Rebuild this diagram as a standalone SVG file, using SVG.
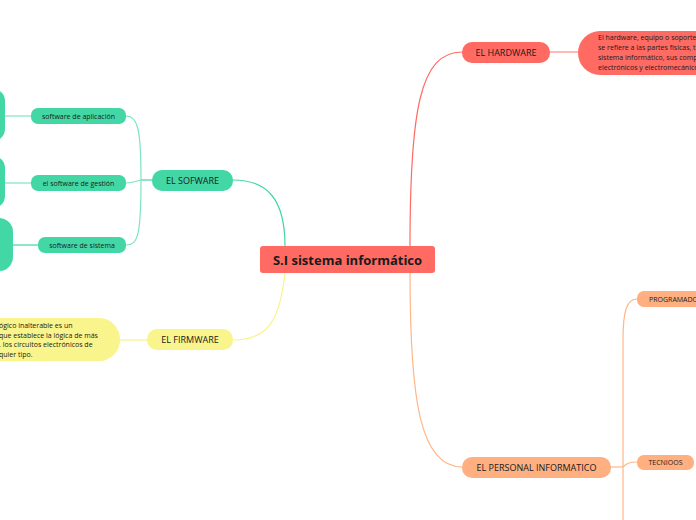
<svg xmlns="http://www.w3.org/2000/svg" width="696" height="520" viewBox="0 0 696 520">
<style>
text{font-family:"Open Sans","Noto Sans","Liberation Sans",sans-serif;fill:#1a1a1a}
.c{fill:none;stroke-width:1.2}
.red{fill:#FF6B63}.grn{fill:#43D7A6}.yel{fill:#F9F48B}.org{fill:#FFAF80}
.m{font-size:9px;text-anchor:middle;dominant-baseline:central}
.s{font-size:7px;text-anchor:middle;dominant-baseline:central}
.d{font-size:7px}
</style>
<rect width="696" height="520" fill="#fff"/>
<g id="connectors">
<path class="c" stroke="#FF6B63" d="M410,246 C410,110 420,52 462,52"/>
<path class="c" stroke="#FF8C80" d="M550,52 L578,52"/>
<path class="c" stroke="#FFB688" d="M410,273 C410,400 420,467 462,467"/>
<path class="c" stroke="#FFB688" d="M611,467 L623,467"/>
<path class="c" stroke="#FFB688" d="M623,520 L623,340 C623,310 627,299 637,299"/>
<path class="c" stroke="#FFB688" d="M623,467 C627,463 630,462 637,462"/>
<path class="c" stroke="#43D6A4" d="M285,246 C285,200 268,180 233,180"/>
<path class="c" stroke="#43D6A4" d="M152,180 L141,180"/>
<path class="c" stroke="#7FE3C2" d="M141,180 C141,130 138,116 126,116"/>
<path class="c" stroke="#7FE3C2" d="M141,180 C136,181 133,183 126,183"/>
<path class="c" stroke="#7FE3C2" d="M141,180 C141,235 138,245 126,245"/>
<path class="c" stroke="#7FE3C2" d="M31,116 L5,116"/>
<path class="c" stroke="#7FE3C2" d="M31,183 L5,183"/>
<path class="c" stroke="#43D6A4" d="M38,245 L13,245"/>
<path class="c" stroke="#F9F28A" d="M285,273 C280,320 268,340 233,340"/>
<path class="c" stroke="#F9F28A" d="M147,340 L120,340"/>
</g>
<g id="central">
<rect class="red" x="260" y="246" width="175" height="27" rx="3"/>
<text x="347.5" y="260" font-size="13" font-weight="bold" text-anchor="middle" dominant-baseline="central">S.I sistema informático</text>
</g>
<g id="hardware">
<rect class="red" x="462" y="42" width="88" height="21" rx="10"/>
<text class="m" x="506" y="52.5">EL HARDWARE</text>
</g>
<g id="hardware-desc">
<rect class="red" x="578" y="31" width="160" height="44" rx="22"/>
<text class="d" x="598" y="40">El hardware, equipo o soporte</text>
<text class="d" x="598" y="50">se refiere a las partes físicas, t</text>
<text class="d" x="598" y="60">sistema informático, sus comp</text>
<text class="d" x="598" y="70">electrónicos y electromecánico</text>
</g>
<g id="personal">
<rect class="org" x="462" y="457" width="149" height="21" rx="10"/>
<text class="m" x="536.5" y="467.5">EL PERSONAL INFORMATICO</text>
</g>
<g id="programado">
<rect class="org" x="637" y="291" width="80" height="16" rx="7"/>
<text x="649" y="299.5" font-size="7" dominant-baseline="central">PROGRAMADO</text>
</g>
<g id="tecnioos">
<rect class="org" x="637" y="455" width="57" height="15" rx="7"/>
<text class="s" x="665.5" y="462.5">TECNIOOS</text>
</g>
<g id="sofware">
<rect class="grn" x="152" y="170" width="81" height="21" rx="10"/>
<text class="m" x="192.5" y="180.5">EL SOFWARE</text>
</g>
<g id="sw-aplicacion">
<rect class="grn" x="31" y="108" width="95" height="16" rx="7"/>
<text class="s" x="78.5" y="116">software de aplicación</text>
</g>
<g id="sw-gestion">
<rect class="grn" x="31" y="175" width="95" height="16" rx="7"/>
<text class="s" x="78.5" y="183">el software de gestión</text>
</g>
<g id="sw-sistema">
<rect class="grn" x="38" y="237" width="88" height="16" rx="7"/>
<text class="s" x="82" y="245">software de sistema</text>
</g>
<g id="left-1"><rect class="grn" x="-60" y="89" width="65" height="52" rx="12"/></g>
<g id="left-2"><rect class="grn" x="-60" y="156" width="65" height="52" rx="12"/></g>
<g id="left-3"><rect class="grn" x="-60" y="218" width="73" height="53" rx="14"/></g>
<g id="firmware">
<rect class="yel" x="147" y="329" width="86" height="21" rx="10"/>
<text class="m" x="190" y="339.5">EL FIRMWARE</text>
</g>
<g id="firmware-desc">
<rect class="yel" x="-60" y="318" width="180" height="43" rx="21"/>
<text class="d" x="-1" y="328">ógico inalterable es un</text>
<text class="d" x="-1" y="338">que establece la lógica de más</text>
<text class="d" x="-1" y="347">. los circuitos electrónicos de</text>
<text class="d" x="-1" y="357">quier tipo.</text>
</g>
</svg>
